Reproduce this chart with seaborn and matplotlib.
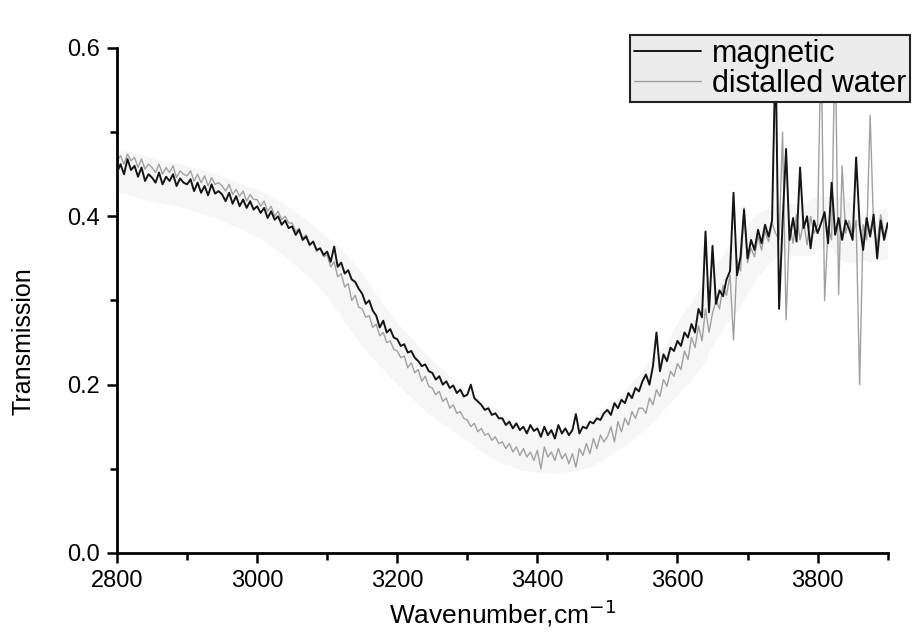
import numpy as np
import pandas as pd
import matplotlib
matplotlib.use("Agg")
import matplotlib.pyplot as plt
from matplotlib.ticker import MultipleLocator
import seaborn as sns

# wavenumber grid, cm-1 (read every 5 cm-1 off the scanned figure)
wavenumber = list(range(2800, 3905, 5))

magnetic = [
    .452, .462, .450, .468, .455, .460, .447, .458, .442, .450,
    .446, .440, .452, .438, .447, .442, .450, .436, .445, .440,
    .438, .444, .430, .440, .428, .436, .425, .438, .427, .430,
    .426, .418, .428, .415, .424, .412, .420, .410, .418, .408,
    .412, .404, .410, .398, .406, .396, .400, .390, .395, .386,
    .388, .378, .384, .372, .376, .366, .370, .360, .362, .354,
    .358, .346, .364, .340, .345, .332, .336, .325, .322, .314,
    .308, .296, .300, .288, .282, .268, .276, .262, .266, .256,
    .254, .246, .248, .238, .240, .232, .228, .222, .224, .216,
    .214, .206, .210, .200, .204, .196, .199, .190, .194, .186,
    .188, .200, .184, .180, .176, .170, .172, .164, .166, .160,
    .160, .152, .156, .148, .154, .146, .150, .142, .152, .145,
    .148, .138, .150, .140, .146, .136, .152, .142, .148, .140,
    .146, .165, .142, .150, .148, .156, .154, .160, .158, .166,
    .170, .164, .178, .172, .182, .178, .190, .184, .196, .192,
    .204, .212, .200, .222, .262, .216, .236, .228, .244, .240,
    .252, .246, .262, .256, .272, .262, .290, .280, .382, .286,
    .365, .296, .312, .305, .325, .335, .428, .330, .352, .408,
    .350, .372, .360, .384, .368, .390, .376, .395, .600, .290,
    .392, .480, .372, .398, .370, .458, .386, .400, .362, .395,
    .380, .392, .405, .368, .440, .378, .398, .372, .395, .385,
    .372, .470, .390, .360, .398, .376, .402, .350, .395, .372,
    .392,
]

distilled_water = [
    .465, .472, .462, .474, .466, .470, .458, .468, .456, .462,
    .458, .452, .462, .450, .458, .452, .460, .446, .454, .450,
    .448, .454, .442, .450, .440, .448, .436, .446, .438, .440,
    .436, .430, .438, .426, .432, .424, .430, .418, .426, .420,
    .420, .412, .418, .406, .412, .400, .406, .396, .400, .392,
    .392, .382, .386, .374, .378, .366, .370, .358, .362, .352,
    .354, .340, .346, .328, .332, .316, .320, .300, .306, .292,
    .290, .280, .282, .268, .272, .258, .262, .250, .252, .242,
    .240, .232, .234, .220, .226, .214, .218, .204, .210, .198,
    .196, .188, .192, .180, .184, .172, .176, .166, .168, .160,
    .158, .150, .154, .144, .148, .140, .142, .134, .138, .130,
    .132, .124, .130, .120, .126, .116, .124, .114, .120, .110,
    .122, .100, .126, .114, .120, .110, .124, .112, .118, .106,
    .118, .102, .124, .116, .130, .118, .136, .124, .140, .132,
    .138, .150, .132, .156, .144, .160, .152, .168, .160, .172,
    .172, .166, .184, .176, .194, .186, .206, .198, .216, .210,
    .225, .218, .240, .230, .256, .244, .270, .252, .290, .262,
    .285, .300, .290, .318, .306, .330, .253, .348, .335, .410,
    .345, .362, .352, .376, .360, .382, .370, .392, .380, .372,
    .500, .277, .390, .368, .402, .372, .394, .366, .400, .380,
    .390, .610, .300, .388, .372, .620, .307, .460, .380, .395,
    .376, .395, .200, .390, .372, .520, .384, .366, .402, .378,
    .388,
]

df = pd.DataFrame({"wavenumber": wavenumber,
                   "magnetic": magnetic,
                   "distalled water": distilled_water})

sns.set_theme(style="ticks")
plt.rcParams["font.family"] = ["Liberation Sans", "DejaVu Sans"]
plt.rcParams["text.color"] = "black"
plt.rcParams["axes.labelcolor"] = "black"

fig = plt.figure(figsize=(9.17, 6.34), dpi=100)
ax = fig.add_axes([0.1276, 0.1278, 0.8404, 0.7965])

# faint grey smear of the scan around the curves
halo = (df["magnetic"] + df["distalled water"]) / 2
halo = halo.rolling(9, center=True, min_periods=1).mean()
ax.plot(df["wavenumber"], halo - 0.01, color="#f6f6f6", lw=30,
        solid_capstyle="round", zorder=0)

sns.lineplot(data=df, x="wavenumber", y="distalled water", ax=ax,
             color="#a0a0a0", lw=1.0, label="distalled water", zorder=2)
sns.lineplot(data=df, x="wavenumber", y="magnetic", ax=ax,
             color="#151515", lw=1.4, label="magnetic", zorder=3)

ax.set_xlim(2800, 3900)
ax.set_ylim(0, 0.6)
ax.xaxis.set_major_locator(MultipleLocator(200))
ax.xaxis.set_minor_locator(MultipleLocator(100))
ax.yaxis.set_major_locator(MultipleLocator(0.2))
ax.yaxis.set_minor_locator(MultipleLocator(0.1))
ax.yaxis.set_major_formatter(matplotlib.ticker.FormatStrFormatter("%.1f"))
ax.tick_params(which="major", length=7, width=1.8, labelsize=17,
               color="black", labelcolor="black", pad=5)
ax.tick_params(which="minor", length=5, width=1.8, color="black")

sns.despine(ax=ax)
for side in ["left", "bottom"]:
    ax.spines[side].set_linewidth(2)
    ax.spines[side].set_color("black")

ax.set_xlabel("Wavenumber,cm$^{-1}$", fontsize=19, labelpad=4, color="black")
ax.set_ylabel("Transmission", fontsize=18, color="black")
ax.yaxis.set_label_coords(-0.106, 0.42)

handles, labels = ax.get_legend_handles_labels()
leg = ax.legend(handles[::-1], labels[::-1], loc="upper left",
                bbox_to_anchor=(630 / 917, 1 - 35 / 634),
                bbox_transform=fig.transFigure, borderaxespad=0,
                fontsize=22, frameon=True, fancybox=False,
                handlelength=2.2, handletextpad=0.35, borderpad=0.12,
                labelspacing=0.0, framealpha=1, labelcolor="black")
leg.get_frame().set_facecolor("#ececec")
leg.get_frame().set_edgecolor("#222222")
leg.get_frame().set_linewidth(1.5)
leg.set_zorder(5)

fig.savefig("out.png", dpi=100)
